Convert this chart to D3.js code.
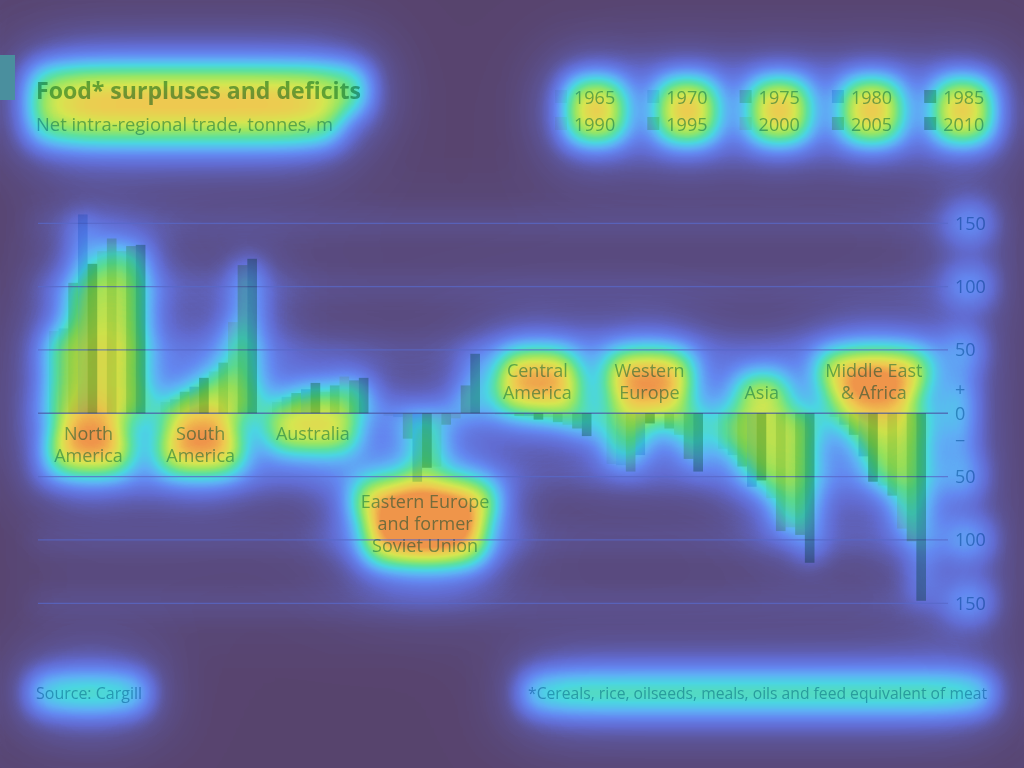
<!DOCTYPE html>
<html><head><meta charset="utf-8">
<script src="https://cdn.jsdelivr.net/npm/d3@7"></script>
<style>
html,body{margin:0;padding:0;background:#584470;}
svg{display:block;font-family:"Open Sans",sans-serif;}
</style></head><body>
<svg id="chart" width="1024" height="768"></svg>
<script>
// ---------------- data ----------------
const years = ["1965","1970","1975","1980","1985","1990","1995","2000","2005","2010"];
const regions = ["North America","South America","Australia","Eastern Europe and former Soviet Union","Central America","Western Europe","Asia","Middle East & Africa"];
const regionLabels = [["North","America"],["South","America"],["Australia"],["Eastern Europe","and former","Soviet Union"],["Central","America"],["Western","Europe"],["Asia"],["Middle East","& Africa"]];
const northAmerica     = [65, 67, 103, 157, 118, 128, 138, 128, 132, 133];
const southAmerica     = [9, 11, 17, 21, 28, 33, 40, 72, 117, 122];
const australia        = [9, 13, 16, 19, 24, 17, 22, 29, 26, 28];
const easternEurope    = [-2, -3, -20, -54, -43, -42, -9, -4, 22, 47];
const centralAmerica   = [-1, -1, -2, -2, -5, -3, -7, -9, -12, -18];
const westernEurope    = [-40, -41, -46, -33, -8, -1, -12, -17, -36, -46];
const asia             = [-28, -33, -42, -58, -53, -67, -93, -90, -96, -118];
const middleEastAfrica = [-3, -9, -17, -34, -54, -57, -65, -91, -101, -148];
const seriesByRegion = [northAmerica, southAmerica, australia, easternEurope, centralAmerica, westernEurope, asia, middleEastAfrica];
const tickValues = [-150, -100, -50, 0, 50, 100, 150];
const titleText = "Food* surpluses and deficits";
const subtitleText = "Net intra-regional trade, tonnes, m";
const sourceText = "Source: Cargill";
const noteText = "*Cereals, rice, oilseeds, meals, oils and feed equivalent of meat";

// ---------------- styling ----------------
const yearColors = ["#eef8f2","#dcf0f4","#d2e8cc","#c2e0f2","#a8ceb0","#f6faea","#d8e8c8","#fbf6e0","#cce2c0","#a2ccb6"];
const textColor = "#7cb8cc";
const W = 1024, H = 768;

const svg = d3.select("#chart");
const defs = svg.append("defs");
const stops = [[88,68,110],[92,84,150],[98,108,210],[100,135,240],[95,175,245],[75,214,226],[92,225,160],[152,230,100],[214,230,80],[240,200,80],[240,150,75]];
const f = defs.append("filter").attr("id","heatmap").attr("filterUnits","userSpaceOnUse")
  .attr("x",0).attr("y",0).attr("width",W).attr("height",H).attr("color-interpolation-filters","sRGB");
f.append("feGaussianBlur").attr("in","SourceGraphic").attr("stdDeviation",12).attr("result","b1");
f.append("feGaussianBlur").attr("in","SourceGraphic").attr("stdDeviation",30).attr("result","b2");
f.append("feGaussianBlur").attr("in","SourceGraphic").attr("stdDeviation",55).attr("result","b3");
f.append("feComposite").attr("in","b1").attr("in2","b2").attr("operator","arithmetic")
  .attr("k1",0).attr("k2",0.6).attr("k3",0.85).attr("k4",0).attr("result","s12");
f.append("feComposite").attr("in","s12").attr("in2","b3").attr("operator","arithmetic")
  .attr("k1",0).attr("k2",1).attr("k3",0.35).attr("k4",0).attr("result","sum");
const ct = f.append("feComponentTransfer").attr("in","sum");
["R","G","B"].forEach((c,i)=>ct.append("feFunc"+c).attr("type","table")
  .attr("tableValues", stops.map(s=>(s[i]/255).toFixed(3)).join(" ")));
ct.append("feFuncA").attr("type","linear").attr("slope",0).attr("intercept",1);

const heat = svg.append("g").attr("filter","url(#heatmap)");
heat.append("rect").attr("width",W).attr("height",H).attr("fill","#000");
const fg = svg.append("g");

// ---------------- scales ----------------
const x = d3.scaleBand().domain(regions).range([49, 926]).paddingInner(0.135).paddingOuter(0);
const xi = d3.scaleBand().domain(years).range([0, x.bandwidth()]);
const y = d3.scaleLinear().domain([-150, 150]).range([603.3, 223.3]);
const labelX = d3.scalePoint().domain(regions).range([88.5, 873.9]);

// faint gridline heat
heat.append("g").selectAll("line").data(tickValues).join("line")
  .attr("x1",30).attr("x2",948).attr("y1",d=>y(d)).attr("y2",d=>y(d))
  .attr("stroke","#fff").attr("stroke-width",10).attr("opacity",0.18);

// gridlines
fg.selectAll("line.grid").data(tickValues).join("line").attr("class","grid")
  .attr("x1",38).attr("x2",948).attr("y1",d=>y(d)).attr("y2",d=>y(d))
  .attr("stroke",d=>d===0?"#4c5aa8":"#5868c8").attr("stroke-width",d=>d===0?1.6:1.2)
  .attr("stroke-opacity",0.75);

// bars
const bars = [];
regions.forEach((r,ri)=>{
  seriesByRegion[ri].forEach((v,yi)=>bars.push({region:r, year:years[yi], yi, value:v}));
});
fg.append("g").selectAll("rect").data(bars).join("rect")
  .attr("x",d=>x(d.region)+xi(d.year)).attr("width",xi.bandwidth())
  .attr("y",d=>y(Math.max(0,d.value))).attr("height",d=>Math.abs(y(d.value)-y(0)))
  .attr("fill",d=>yearColors[d.yi]).style("mix-blend-mode","multiply");
heat.append("g").selectAll("rect").data(bars).join("rect")
  .attr("x",d=>x(d.region)+xi(d.year)-3).attr("width",xi.bandwidth()+6)
  .attr("y",d=>y(Math.max(0,d.value))).attr("height",d=>Math.abs(y(d.value)-y(0)))
  .attr("fill","#fff").attr("opacity",0.36);

// axis
const ax = fg.append("g").attr("transform","translate(948,0)")
  .call(d3.axisRight(y).tickValues(tickValues).tickSize(0).tickPadding(7).tickFormat(d=>Math.abs(d)));
ax.select(".domain").remove();
ax.selectAll("text").attr("font-size",18).attr("font-family","Open Sans").attr("fill",textColor)
  .attr("data-heat",0.34).style("mix-blend-mode","multiply");
fg.append("text").attr("x",955).attr("y",y(0)-24).attr("dy","0.35em").text("+")
  .attr("font-size",18).attr("fill",textColor).attr("data-heat",0.28).style("mix-blend-mode","multiply");
fg.append("text").attr("x",955).attr("y",y(0)+27).attr("dy","0.35em").text("\u2212")
  .attr("font-size",18).attr("fill",textColor).attr("data-heat",0.28).style("mix-blend-mode","multiply");

// region labels
regions.forEach((r,ri)=>{
  const vals = seriesByRegion[ri];
  const lines = regionLabels[ri];
  const hasPositive = d3.max(vals) > 20;
  let firstCenter;
  if (hasPositive) firstCenter = y(Math.min(0, d3.min(vals))) + 20;
  else firstCenter = y(0) - 21 - (lines.length-1)*22;
  lines.forEach((ln,li)=>{
    fg.append("text").attr("x",labelX(r)).attr("y",firstCenter+li*22).attr("dy","0.35em")
      .attr("text-anchor","middle").attr("font-size",18).attr("fill",textColor)
      .attr("data-heat",0.66).style("mix-blend-mode","multiply").text(ln);
  });
});

// title & subtitle
function fitText(sel, target){ sel.attr("textLength",target).attr("lengthAdjust","spacingAndGlyphs"); }
const t1 = fg.append("text").attr("x",36).attr("y",98.5).attr("font-size",23).attr("font-weight",700)
  .attr("fill","#7ab39a").attr("data-heat",0.57).style("mix-blend-mode","multiply").text(titleText);
fitText(t1, 325);
const t2 = fg.append("text").attr("x",36).attr("y",130.7).attr("font-size",19)
  .attr("fill",textColor).attr("data-heat",0.5).style("mix-blend-mode","multiply").text(subtitleText);
fitText(t2, 297);

// legend
years.forEach((yr,i)=>{
  const col = i % 5, row = Math.floor(i/5);
  const sx = 555 + col*92.3, sy = 90 + row*27;
  fg.append("rect").attr("x",sx).attr("y",sy).attr("width",12).attr("height",13)
    .attr("fill",yearColors[i]).style("mix-blend-mode","multiply");
  fg.append("text").attr("x",sx+19).attr("y",104.3+row*26.7).attr("font-size",18)
    .attr("fill",textColor).attr("data-heat",0.72).style("mix-blend-mode","multiply").text(yr);
});

// footer
const s1 = fg.append("text").attr("x",36).attr("y",699).attr("font-size",16)
  .attr("fill",textColor).attr("data-heat",0.52).style("mix-blend-mode","multiply").text(sourceText);
fitText(s1, 106);
const s2 = fg.append("text").attr("x",987).attr("y",699).attr("text-anchor","end").attr("font-size",16)
  .attr("fill",textColor).attr("data-heat",0.52).style("mix-blend-mode","multiply").text(noteText);
fitText(s2, 459);

// tag
fg.append("rect").attr("x",0).attr("y",55).attr("width",15).attr("height",45).attr("fill","#4a8f9e");

// heat shapes from text boxes
fg.selectAll("text").each(function(){
  const w = +this.getAttribute("data-heat");
  if (!w) return;
  const b = this.getBBox();
  const m = this.getCTM();
  const pad = 8;
  heat.append("rect").attr("x",b.x+m.e-pad).attr("y",b.y+m.f-pad)
    .attr("width",b.width+2*pad).attr("height",b.height+2*pad).attr("rx",12)
    .attr("fill","#fff").attr("opacity",w);
});
</script>
</body></html>
